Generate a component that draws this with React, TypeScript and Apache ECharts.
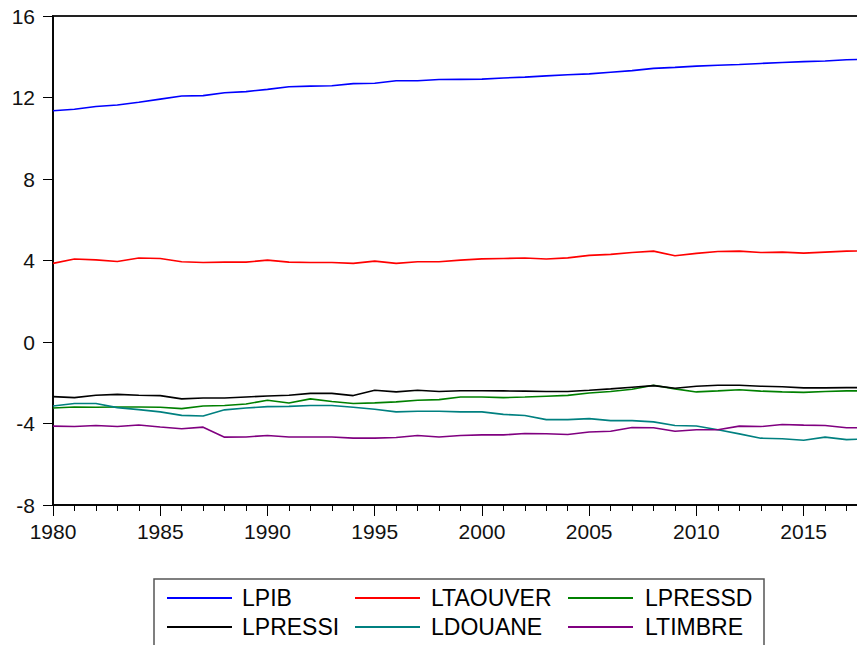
import React, { useEffect, useRef } from "react";
import * as echarts from "echarts";

const years: number[] = [];
for (let y = 1980; y <= 2018; y++) years.push(y);

const seriesNames = ["LPIB", "LTAOUVER", "LPRESSD", "LPRESSI", "LDOUANE", "LTIMBRE"];
const seriesColors = ["#0000FF", "#FF0000", "#008000", "#000000", "#008080", "#800080"];

const LPIB = [11.35, 11.42, 11.56, 11.63, 11.77, 11.92, 12.07, 12.09, 12.23, 12.29, 12.4, 12.53, 12.56, 12.58, 12.68, 12.7, 12.82, 12.82, 12.88, 12.89, 12.9, 12.96, 13.0, 13.06, 13.12, 13.16, 13.24, 13.32, 13.43, 13.48, 13.54, 13.58, 13.62, 13.67, 13.72, 13.76, 13.79, 13.85, 13.88];
const LTAOUVER = [3.86, 4.07, 4.03, 3.95, 4.12, 4.1, 3.94, 3.9, 3.92, 3.92, 4.02, 3.92, 3.9, 3.9, 3.86, 3.97, 3.86, 3.94, 3.94, 4.02, 4.08, 4.1, 4.12, 4.07, 4.13, 4.25, 4.3, 4.39, 4.46, 4.23, 4.35, 4.44, 4.46, 4.39, 4.41, 4.36, 4.41, 4.46, 4.48];
const LPRESSD = [-3.24, -3.19, -3.2, -3.19, -3.19, -3.2, -3.27, -3.14, -3.12, -3.04, -2.86, -2.99, -2.79, -2.92, -3.02, -2.99, -2.94, -2.86, -2.83, -2.7, -2.7, -2.73, -2.7, -2.66, -2.62, -2.5, -2.43, -2.32, -2.12, -2.3, -2.45, -2.4, -2.34, -2.41, -2.45, -2.47, -2.43, -2.4, -2.4];
const LPRESSI = [-2.68, -2.73, -2.61, -2.57, -2.61, -2.63, -2.79, -2.75, -2.75, -2.7, -2.65, -2.61, -2.52, -2.52, -2.63, -2.37, -2.45, -2.37, -2.43, -2.39, -2.39, -2.4, -2.41, -2.43, -2.43, -2.37, -2.3, -2.22, -2.14, -2.27, -2.17, -2.12, -2.12, -2.17, -2.2, -2.25, -2.25, -2.24, -2.24];
const LDOUANE = [-3.14, -3.02, -3.02, -3.22, -3.32, -3.43, -3.6, -3.63, -3.33, -3.24, -3.17, -3.16, -3.12, -3.12, -3.2, -3.3, -3.43, -3.4, -3.4, -3.43, -3.43, -3.55, -3.61, -3.81, -3.81, -3.76, -3.86, -3.86, -3.92, -4.1, -4.12, -4.31, -4.51, -4.72, -4.75, -4.82, -4.67, -4.79, -4.76];
const LTIMBRE = [-4.13, -4.15, -4.1, -4.15, -4.07, -4.17, -4.26, -4.18, -4.67, -4.66, -4.59, -4.66, -4.66, -4.66, -4.72, -4.72, -4.69, -4.59, -4.66, -4.59, -4.56, -4.56, -4.49, -4.5, -4.54, -4.42, -4.38, -4.2, -4.21, -4.38, -4.31, -4.31, -4.13, -4.15, -4.05, -4.08, -4.1, -4.21, -4.21];

const seriesValues = [LPIB, LTAOUVER, LPRESSD, LPRESSI, LDOUANE, LTIMBRE];

const yMin = -8;
const yMax = 16;
const yInterval = 4;
const xMin = 1980;
const xMax = 2018;
const xInterval = 5;

const FONT = "'Liberation Sans', Arial, sans-serif";

export default function App() {
  const ref = useRef<HTMLDivElement>(null);

  useEffect(() => {
    if (!ref.current) return;
    const chart = echarts.init(ref.current, undefined, { renderer: "svg" });

    const legendCols = [167, 355, 568];
    const legendTextCols = [242, 431, 645];
    const legendRows = [598, 627];
    const legendGraphics: any[] = [
      {
        type: "rect",
        shape: { x: 154, y: 579, width: 610, height: 80 },
        style: { fill: "#fff", stroke: "#555", lineWidth: 1.5 },
        z: 10,
      },
    ];
    seriesNames.forEach((name, i) => {
      const col = i % 3;
      const row = Math.floor(i / 3);
      const y = legendRows[row];
      legendGraphics.push({
        type: "line",
        shape: { x1: legendCols[col], y1: y, x2: legendCols[col] + 65, y2: y },
        style: { stroke: seriesColors[i], lineWidth: 2 },
        z: 11,
      });
      legendGraphics.push({
        type: "text",
        x: legendTextCols[col],
        y: y,
        style: {
          text: name,
          fill: "#000",
          font: `23px ${FONT}`,
          verticalAlign: "middle",
          align: "left",
        },
        z: 11,
      });
    });

    chart.setOption({
      animation: false,
      backgroundColor: "#fff",
      grid: {
        left: 53,
        top: 16,
        width: 815,
        bottom: 140,
        show: true,
        borderColor: "#222",
        borderWidth: 2,
        backgroundColor: "transparent",
        containLabel: false,
        outerBoundsMode: "none",
      },
      xAxis: {
        type: "value",
        min: xMin,
        max: xMax,
        interval: xInterval,
        axisLine: { show: true, onZero: false, lineStyle: { color: "#000", width: 1.5 } },
        axisTick: { show: true, length: 11, lineStyle: { color: "#000", width: 1 } },
        minorTick: { show: true, splitNumber: 5, length: 6, lineStyle: { color: "#000", width: 1 } },
        axisLabel: {
          margin: 16,
          fontSize: 21,
          fontFamily: FONT,
          color: "#111",
          formatter: (v: number) => (v % 5 === 0 ? String(v) : ""),
        },
        splitLine: { show: false },
        minorSplitLine: { show: false },
      },
      yAxis: {
        type: "value",
        min: yMin,
        max: yMax,
        interval: yInterval,
        axisLine: { show: true, lineStyle: { color: "#000", width: 1.5 } },
        axisTick: { show: true, length: 10, lineStyle: { color: "#000", width: 1 } },
        axisLabel: {
          margin: 18,
          fontSize: 21,
          fontFamily: FONT,
          color: "#111",
        },
        splitLine: { show: false },
      },
      series: seriesNames.map((name, i) => ({
        name,
        type: "line",
        symbol: "none",
        showSymbol: false,
        data: years.map((yr, j) => [yr, seriesValues[i][j]]),
        lineStyle: { color: seriesColors[i], width: 1.6 },
        itemStyle: { color: seriesColors[i] },
        clip: true,
      })),
      graphic: legendGraphics,
    });

    return () => {
      chart.dispose();
    };
  }, []);

  return (
    <div
      ref={ref}
      style={{ position: "fixed", left: 0, top: 0, width: 857, height: 645, background: "#fff" }}
    />
  );
}
